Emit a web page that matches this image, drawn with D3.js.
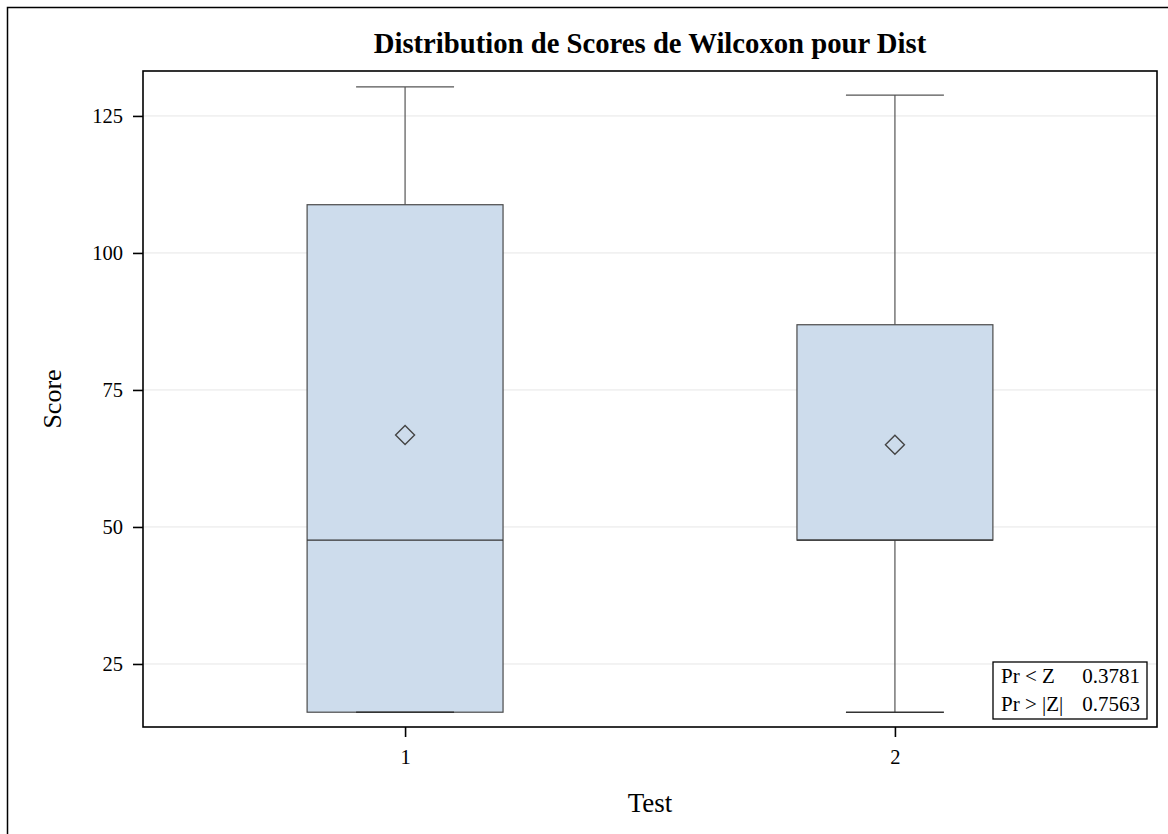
<!DOCTYPE html>
<html><head><meta charset="utf-8">
<script src="https://cdn.jsdelivr.net/npm/d3@7"></script>
<style>body{margin:0;background:#fff}svg{display:block}text{font-family:"Liberation Serif","Times New Roman",serif}</style>
</head><body>
<svg id="c" width="1168" height="834"></svg>
<script>
const categories = ["1", "2"];
const minVals = [16.2, 16.2];
const q1Vals = [16.2, 47.6];
const medianVals = [47.6, 47.6];
const q3Vals = [108.8, 86.9];
const maxVals = [130.3, 128.8];
const meanVals = [66.8, 65.0];
const yTicks = [25, 50, 75, 100, 125];
const statLabels = ["Pr < Z", "Pr > |Z|"];
const statValues = ["0.3781", "0.7563"];

const svg = d3.select("#c");
const L = 143, R = 1157, T = 71, B = 727;

svg.append("rect").attr("x", 7.5).attr("y", 7.5).attr("width", 1170).attr("height", 840)
  .attr("fill", "#fff").attr("stroke", "#000").attr("stroke-width", 1.5);

const x = d3.scalePoint().domain(categories).range([L, R]).padding(0.535);
const step = x.step();
const bw = step * 0.4;
const y = d3.scaleLinear().domain([13.5, 133.2]).range([B, T]);

// grid
svg.append("g").selectAll("line").data(yTicks).join("line")
  .attr("x1", L).attr("x2", R).attr("y1", d => y(d)).attr("y2", d => y(d))
  .attr("stroke", "#e6e6e6").attr("stroke-width", 1);

const data = categories.map((c, i) => ({c, min: minVals[i], q1: q1Vals[i], med: medianVals[i], q3: q3Vals[i], max: maxVals[i], mean: meanVals[i]}));
const g = svg.append("g");
const bx = g.selectAll("g").data(data).join("g");
const wc = "#555";
bx.append("line").attr("x1", d => x(d.c)).attr("x2", d => x(d.c)).attr("y1", d => y(d.max)).attr("y2", d => y(d.q3)).attr("stroke", wc).attr("stroke-width", 1.2);
bx.append("line").attr("x1", d => x(d.c)).attr("x2", d => x(d.c)).attr("y1", d => y(d.min)).attr("y2", d => y(d.q1)).attr("stroke", wc).attr("stroke-width", 1.2);
bx.append("line").attr("x1", d => x(d.c) - bw / 4).attr("x2", d => x(d.c) + bw / 4).attr("y1", d => y(d.max)).attr("y2", d => y(d.max)).attr("stroke", wc).attr("stroke-width", 1.3);
// box
bx.append("rect").attr("x", d => x(d.c) - bw / 2).attr("width", bw)
  .attr("y", d => y(d.q3)).attr("height", d => y(d.q1) - y(d.q3))
  .attr("fill", "#cddcec").attr("stroke", "#4a4a4a").attr("stroke-width", 1.2);
bx.append("line").attr("x1", d => x(d.c) - bw / 4).attr("x2", d => x(d.c) + bw / 4).attr("y1", d => y(d.min)).attr("y2", d => y(d.min)).attr("stroke", "#333").attr("stroke-width", 1.4);
bx.append("line").attr("x1", d => x(d.c) - bw / 2).attr("x2", d => x(d.c) + bw / 2).attr("y1", d => y(d.med)).attr("y2", d => y(d.med)).attr("stroke", "#333").attr("stroke-width", 1.3);
// mean diamond
bx.append("path").attr("d", d => { const cx = x(d.c), cy = y(d.mean), s = 9.5; return `M${cx},${cy - s}L${cx + s},${cy}L${cx},${cy + s}L${cx - s},${cy}Z`; })
  .attr("fill", "none").attr("stroke", "#444").attr("stroke-width", 1.4);

// frame
svg.append("rect").attr("x", L).attr("y", T).attr("width", R - L).attr("height", B - T).attr("fill", "none").attr("stroke", "#000").attr("stroke-width", 1.6);

// axes
const ya = svg.append("g").attr("transform", `translate(${L},0)`).call(d3.axisLeft(y).tickValues(yTicks).tickSize(10).tickPadding(10));
ya.select(".domain").remove();
ya.selectAll("line").attr("stroke", "#000").attr("stroke-width", 1.6);
ya.selectAll("text").attr("font-size", 20.5).attr("font-family", "Liberation Serif").attr("fill", "#000");
const xa = svg.append("g").attr("transform", `translate(0,${B})`).call(d3.axisBottom(x).tickSize(10).tickPadding(12));
xa.select(".domain").remove();
xa.selectAll("line").attr("stroke", "#000").attr("stroke-width", 1.6);
xa.selectAll("text").attr("font-size", 20.5).attr("font-family", "Liberation Serif").attr("fill", "#000");

// titles
svg.append("text").attr("x", (L + R) / 2).attr("y", 53).attr("text-anchor", "middle").attr("font-size", 28.7).attr("font-weight", "bold").text("Distribution de Scores de Wilcoxon pour Dist");
svg.append("text").attr("x", (L + R) / 2).attr("y", 812).attr("text-anchor", "middle").attr("font-size", 27).text("Test");
svg.append("text").attr("transform", `translate(61,${(T + B) / 2}) rotate(-90)`).attr("text-anchor", "middle").attr("font-size", 26).text("Score");

// inset
const ix = 993, iy = 662, iw = 154, ih = 57;
svg.append("rect").attr("x", ix).attr("y", iy).attr("width", iw).attr("height", ih).attr("fill", "#fff").attr("stroke", "#000").attr("stroke-width", 1.3);
const rows = svg.append("g").selectAll("g").data(statLabels).join("g");
rows.append("text").attr("x", ix + 8).attr("y", (d, i) => iy + 21 + i * 28).attr("font-size", 21).text(d => d);
rows.append("text").attr("x", ix + iw - 7).attr("y", (d, i) => iy + 21 + i * 28).attr("text-anchor", "end").attr("font-size", 21).text((d, i) => statValues[i]);
</script>
</body></html>
